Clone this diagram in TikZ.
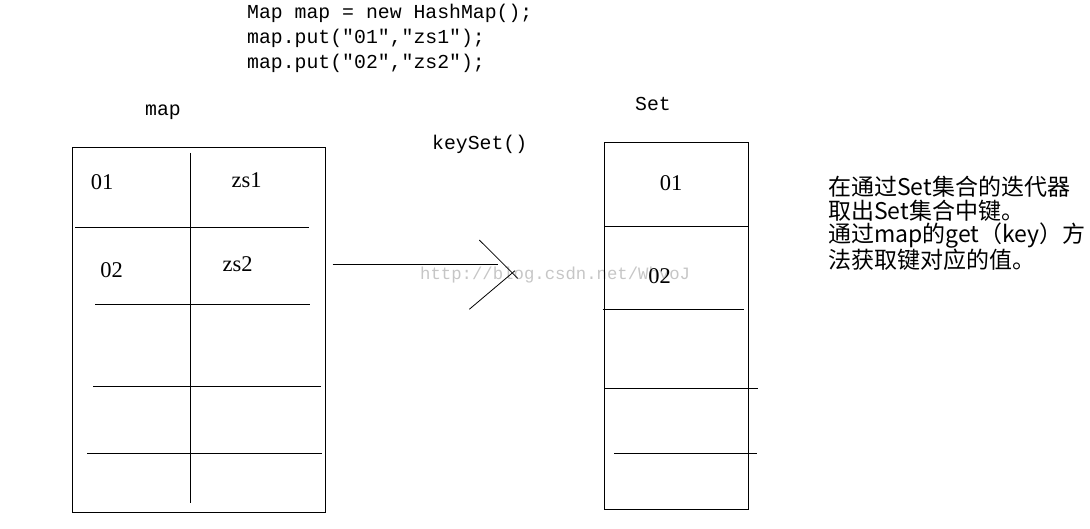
\documentclass[tikz,border=0pt]{standalone}
\usepackage{fontspec}
\setmainfont{Liberation Serif}
\setmonofont{Liberation Mono}
\newfontfamily\cjk{Noto Sans CJK SC}
\usetikzlibrary{positioning}

\begin{document}
\begin{tikzpicture}[
        x=1pt, y=-1pt,
        code/.style={font=\ttfamily\fontsize{19.8}{24}\selectfont, anchor=base west, inner sep=0pt},
        title/.style={font=\ttfamily\fontsize{19.8}{24}\selectfont, anchor=base west, inner sep=0pt},
        cell/.style={font=\fontsize{22.5}{24}\selectfont, inner sep=0pt},
        note/.style={font=\cjk\fontsize{23}{23.4}\selectfont, align=left, anchor=north west, inner sep=0pt},
        watermark/.style={font=\ttfamily\fontsize{17.3}{20}\selectfont, text=gray!45, inner sep=0pt},
        rule/.style={line width=1pt, draw=black},
    ]
    \useasboundingbox (0,0) rectangle (1090,529);

    % Code
    \node[code] (line1) at (247,18.5) {Map map = new HashMap();};
    \node[code] (line2) at (247,43.3) {map.put("01","zs1");};
    \node[code] (line3) at (247,68.3) {map.put("02","zs2");};

    % Titles
    \node[title] (maptitle) at (145,116) {map};
    \node[title] (settitle) at (635,110.7) {Set};
    \node[title] (keyset) at (432,150) {keySet()};

    % Map table
    \draw[rule] (72.3,147.3) rectangle (325.7,512.3);
    \draw[rule] (190.3,153) -- (190.3,502.7);
    \draw[rule] (75,227.3) -- (309,227.3);
    \draw[rule] (95,304.3) -- (309.7,304.3);
    \draw[rule] (93.3,386.3) -- (320.7,386.3);
    \draw[rule] (87,453.3) -- (322,453.3);
    \node[cell] (key1) at (102,182) {01};
    \node[cell] (val1) at (246.7,180.3) {zs1};
    \node[cell] (key2) at (111.7,270) {02};
    \node[cell] (val2) at (237.7,264) {zs2};

    % Watermark
    \node[watermark, anchor=west] (wm) at (420,275) {http://blog.csdn.net/WhyoJ};

    % Set table
    \draw[rule] (604.3,142.3) rectangle (748.3,509.3);
    \draw[rule] (604.3,226.3) -- (748.3,226.3);
    \draw[rule] (602.7,309.3) -- (744,309.3);
    \draw[rule] (604.3,388.3) -- (757.7,388.3);
    \draw[rule] (614,453.3) -- (756.7,453.3);
    \node[cell] (set1) at (671,183.5) {01};
    \node[cell] (set2) at (659.7,275.7) {02};

    % Arrow
    \coordinate (tail) at (332.7,264.7);
    \coordinate (head) at (497.7,264.7);
    \coordinate (tipa) at (479.3,240);
    \coordinate (tipb) at (517.7,278.3);
    \coordinate (tipc) at (469.3,309.3);
    \coordinate (tipd) at (515,270.7);
    \draw[line width=0.9pt] (tail) -- (head);
    \draw[line width=0.8pt] (tipa) -- (tipb);
    \draw[line width=0.8pt] (tipc) -- (tipd);

    % Note
    \node[note] (note) at (828,176) {在通过Set集合的迭代器\\取出Set集合中键。\\通过map的get（key）方\\法获取键对应的值。};

\end{tikzpicture}
\end{document}
